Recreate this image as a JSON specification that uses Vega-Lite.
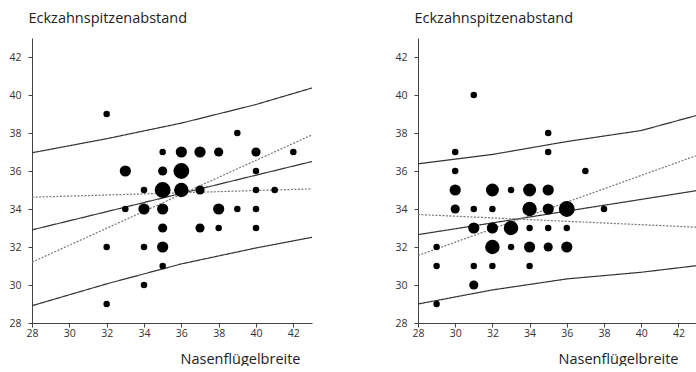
{
  "$schema": "https://vega.github.io/schema/vega-lite/v6.json",
  "background": "white",
  "padding": {"left": 8, "top": 10, "right": 0, "bottom": 0},
  "spacing": 82,
  "config": {
    "view": {"stroke": null},
    "font": "Open Sans",
    "axis": {
      "grid": false,
      "domainColor": "#444",
      "tickColor": "#444",
      "tickSize": 4,
      "labelColor": "#333",
      "labelFontSize": 10.5,
      "labelOverlap": false,
      "titleColor": "#222",
      "titleFontWeight": "normal"
    },
    "axisX": {"labelOverlap": false}
  },
  "datasets": {
    "pts": [
      {"panel": "A", "breite": 32, "abstand": 39, "n": 1},
      {"panel": "A", "breite": 39, "abstand": 38, "n": 1},
      {"panel": "A", "breite": 35, "abstand": 37, "n": 1},
      {"panel": "A", "breite": 36, "abstand": 37, "n": 3},
      {"panel": "A", "breite": 37, "abstand": 37, "n": 3},
      {"panel": "A", "breite": 38, "abstand": 37, "n": 2},
      {"panel": "A", "breite": 40, "abstand": 37, "n": 2},
      {"panel": "A", "breite": 42, "abstand": 37, "n": 1},
      {"panel": "A", "breite": 33, "abstand": 36, "n": 3},
      {"panel": "A", "breite": 35, "abstand": 36, "n": 2},
      {"panel": "A", "breite": 36, "abstand": 36, "n": 6},
      {"panel": "A", "breite": 40, "abstand": 36, "n": 1},
      {"panel": "A", "breite": 34, "abstand": 35, "n": 1},
      {"panel": "A", "breite": 35, "abstand": 35, "n": 6},
      {"panel": "A", "breite": 36, "abstand": 35, "n": 5},
      {"panel": "A", "breite": 37, "abstand": 35, "n": 2},
      {"panel": "A", "breite": 40, "abstand": 35, "n": 1},
      {"panel": "A", "breite": 41, "abstand": 35, "n": 1},
      {"panel": "A", "breite": 33, "abstand": 34, "n": 1},
      {"panel": "A", "breite": 34, "abstand": 34, "n": 3},
      {"panel": "A", "breite": 35, "abstand": 34, "n": 3},
      {"panel": "A", "breite": 38, "abstand": 34, "n": 3},
      {"panel": "A", "breite": 39, "abstand": 34, "n": 1},
      {"panel": "A", "breite": 40, "abstand": 34, "n": 1},
      {"panel": "A", "breite": 35, "abstand": 33, "n": 2},
      {"panel": "A", "breite": 37, "abstand": 33, "n": 2},
      {"panel": "A", "breite": 38, "abstand": 33, "n": 1},
      {"panel": "A", "breite": 40, "abstand": 33, "n": 1},
      {"panel": "A", "breite": 32, "abstand": 32, "n": 1},
      {"panel": "A", "breite": 34, "abstand": 32, "n": 1},
      {"panel": "A", "breite": 35, "abstand": 32, "n": 3},
      {"panel": "A", "breite": 35, "abstand": 31, "n": 1},
      {"panel": "A", "breite": 34, "abstand": 30, "n": 1},
      {"panel": "A", "breite": 32, "abstand": 29, "n": 1},

      {"panel": "B", "breite": 31, "abstand": 40, "n": 1},
      {"panel": "B", "breite": 35, "abstand": 38, "n": 1},
      {"panel": "B", "breite": 30, "abstand": 37, "n": 1},
      {"panel": "B", "breite": 35, "abstand": 37, "n": 1},
      {"panel": "B", "breite": 30, "abstand": 36, "n": 1},
      {"panel": "B", "breite": 37, "abstand": 36, "n": 1},
      {"panel": "B", "breite": 30, "abstand": 35, "n": 3},
      {"panel": "B", "breite": 32, "abstand": 35, "n": 4},
      {"panel": "B", "breite": 33, "abstand": 35, "n": 1},
      {"panel": "B", "breite": 34, "abstand": 35, "n": 4},
      {"panel": "B", "breite": 35, "abstand": 35, "n": 3},
      {"panel": "B", "breite": 30, "abstand": 34, "n": 2},
      {"panel": "B", "breite": 31, "abstand": 34, "n": 1},
      {"panel": "B", "breite": 32, "abstand": 34, "n": 1},
      {"panel": "B", "breite": 34, "abstand": 34, "n": 5},
      {"panel": "B", "breite": 35, "abstand": 34, "n": 3},
      {"panel": "B", "breite": 36, "abstand": 34, "n": 6},
      {"panel": "B", "breite": 38, "abstand": 34, "n": 1},
      {"panel": "B", "breite": 31, "abstand": 33, "n": 3},
      {"panel": "B", "breite": 32, "abstand": 33, "n": 3},
      {"panel": "B", "breite": 33, "abstand": 33, "n": 5},
      {"panel": "B", "breite": 34, "abstand": 33, "n": 1},
      {"panel": "B", "breite": 35, "abstand": 33, "n": 1},
      {"panel": "B", "breite": 36, "abstand": 33, "n": 1},
      {"panel": "B", "breite": 29, "abstand": 32, "n": 1},
      {"panel": "B", "breite": 32, "abstand": 32, "n": 5},
      {"panel": "B", "breite": 33, "abstand": 32, "n": 1},
      {"panel": "B", "breite": 34, "abstand": 32, "n": 3},
      {"panel": "B", "breite": 35, "abstand": 32, "n": 2},
      {"panel": "B", "breite": 36, "abstand": 32, "n": 3},
      {"panel": "B", "breite": 29, "abstand": 31, "n": 1},
      {"panel": "B", "breite": 31, "abstand": 31, "n": 1},
      {"panel": "B", "breite": 32, "abstand": 31, "n": 1},
      {"panel": "B", "breite": 34, "abstand": 31, "n": 1},
      {"panel": "B", "breite": 31, "abstand": 30, "n": 2},
      {"panel": "B", "breite": 29, "abstand": 29, "n": 1}
    ],
    "lines": [
      {"panel": "A", "linie": "PI oben", "art": "Vorhersage", "breite": 28, "abstand": 36.96},
      {"panel": "A", "linie": "PI oben", "art": "Vorhersage", "breite": 32, "abstand": 37.70},
      {"panel": "A", "linie": "PI oben", "art": "Vorhersage", "breite": 36, "abstand": 38.52},
      {"panel": "A", "linie": "PI oben", "art": "Vorhersage", "breite": 40, "abstand": 39.50},
      {"panel": "A", "linie": "PI oben", "art": "Vorhersage", "breite": 43, "abstand": 40.37},
      {"panel": "A", "linie": "Regression", "art": "Regression", "breite": 28, "abstand": 32.90},
      {"panel": "A", "linie": "Regression", "art": "Regression", "breite": 43, "abstand": 36.50},
      {"panel": "A", "linie": "PI unten", "art": "Vorhersage", "breite": 28, "abstand": 28.91},
      {"panel": "A", "linie": "PI unten", "art": "Vorhersage", "breite": 32, "abstand": 30.06},
      {"panel": "A", "linie": "PI unten", "art": "Vorhersage", "breite": 36, "abstand": 31.11},
      {"panel": "A", "linie": "PI unten", "art": "Vorhersage", "breite": 40, "abstand": 31.95},
      {"panel": "A", "linie": "PI unten", "art": "Vorhersage", "breite": 43, "abstand": 32.51},
      {"panel": "A", "linie": "KI 1", "art": "Konfidenz", "breite": 28, "abstand": 31.20},
      {"panel": "A", "linie": "KI 1", "art": "Konfidenz", "breite": 43, "abstand": 37.90},
      {"panel": "A", "linie": "KI 2", "art": "Konfidenz", "breite": 28, "abstand": 34.62},
      {"panel": "A", "linie": "KI 2", "art": "Konfidenz", "breite": 43, "abstand": 35.06},

      {"panel": "B", "linie": "PI oben", "art": "Vorhersage", "breite": 28, "abstand": 36.38},
      {"panel": "B", "linie": "PI oben", "art": "Vorhersage", "breite": 32, "abstand": 36.87},
      {"panel": "B", "linie": "PI oben", "art": "Vorhersage", "breite": 36, "abstand": 37.55},
      {"panel": "B", "linie": "PI oben", "art": "Vorhersage", "breite": 40, "abstand": 38.13},
      {"panel": "B", "linie": "PI oben", "art": "Vorhersage", "breite": 43, "abstand": 38.93},
      {"panel": "B", "linie": "Regression", "art": "Regression", "breite": 28, "abstand": 32.65},
      {"panel": "B", "linie": "Regression", "art": "Regression", "breite": 43, "abstand": 34.97},
      {"panel": "B", "linie": "PI unten", "art": "Vorhersage", "breite": 28, "abstand": 29.00},
      {"panel": "B", "linie": "PI unten", "art": "Vorhersage", "breite": 32, "abstand": 29.74},
      {"panel": "B", "linie": "PI unten", "art": "Vorhersage", "breite": 36, "abstand": 30.32},
      {"panel": "B", "linie": "PI unten", "art": "Vorhersage", "breite": 40, "abstand": 30.67},
      {"panel": "B", "linie": "PI unten", "art": "Vorhersage", "breite": 43, "abstand": 31.02},
      {"panel": "B", "linie": "KI 1", "art": "Konfidenz", "breite": 28, "abstand": 31.55},
      {"panel": "B", "linie": "KI 1", "art": "Konfidenz", "breite": 43, "abstand": 36.82},
      {"panel": "B", "linie": "KI 2", "art": "Konfidenz", "breite": 28, "abstand": 33.71},
      {"panel": "B", "linie": "KI 2", "art": "Konfidenz", "breite": 43, "abstand": 33.04}
    ]
  },
  "hconcat": [
    {
      "width": 280,
      "height": 285,
      "encoding": {
        "x": {"field": "breite", "type": "quantitative", "scale": {"domain": [28, 43], "nice": false, "zero": false},
          "axis": {"values": [28, 30, 32, 34, 36, 38, 40, 42], "labelOverlap": false, "labelFlush": false, "title": "Nasenflügelbreite", "titleFontSize": 14.5, "titleAlign": "right", "titleAnchor": null, "titleX": 268, "titleY": 40, "titleBaseline": "alphabetic", "labelPadding": 1}},
        "y": {"field": "abstand", "type": "quantitative", "scale": {"domain": [28, 43], "nice": false, "zero": false},
          "axis": {"values": [28, 30, 32, 34, 36, 38, 40, 42], "labelOverlap": false, "labelFlush": false, "title": "Eckzahnspitzenabstand", "titleFontSize": 14.5, "titleAngle": 0, "titleAlign": "left", "titleAnchor": null, "titleX": -4, "titleY": -16, "titleBaseline": "alphabetic", "labelPadding": 7}}
      },
      "layer": [
        {
          "data": {"name": "lines"},
          "transform": [{"filter": "datum.panel == 'A'"}],
          "mark": {"type": "line", "strokeWidth": 1.2, "clip": true},
          "encoding": {
            "detail": {"field": "linie"},
            "color": {"field": "art", "type": "nominal", "scale": {"domain": ["Vorhersage", "Regression", "Konfidenz"], "range": ["#333333", "#333333", "#777777"]}, "legend": null},
            "strokeDash": {"field": "art", "type": "nominal", "scale": {"domain": ["Vorhersage", "Regression", "Konfidenz"], "range": [[1, 0], [1, 0], [2, 1.5]]}, "legend": null}
          }
        },
        {
          "data": {"name": "pts"},
          "transform": [{"filter": "datum.panel == 'A'"}],
          "mark": {"type": "circle", "color": "black", "opacity": 1},
          "encoding": {
            "size": {"field": "n", "type": "quantitative", "scale": {"type": "linear", "domain": [0, 6], "range": [0, 252]}, "legend": null}
          }
        }
      ]
    },
    {
      "width": 279,
      "height": 285,
      "encoding": {
        "x": {"field": "breite", "type": "quantitative", "scale": {"domain": [28, 43], "nice": false, "zero": false},
          "axis": {"values": [28, 30, 32, 34, 36, 38, 40, 42], "labelOverlap": false, "labelFlush": false, "title": "Nasenflügelbreite", "titleFontSize": 14.5, "titleAlign": "right", "titleAnchor": null, "titleX": 260, "titleY": 40, "titleBaseline": "alphabetic", "labelPadding": 1}},
        "y": {"field": "abstand", "type": "quantitative", "scale": {"domain": [28, 43], "nice": false, "zero": false},
          "axis": {"values": [28, 30, 32, 34, 36, 38, 40, 42], "labelOverlap": false, "labelFlush": false, "title": "Eckzahnspitzenabstand", "titleFontSize": 14.5, "titleAngle": 0, "titleAlign": "left", "titleAnchor": null, "titleX": -4, "titleY": -16, "titleBaseline": "alphabetic", "labelPadding": 7}}
      },
      "layer": [
        {
          "data": {"name": "lines"},
          "transform": [{"filter": "datum.panel == 'B'"}],
          "mark": {"type": "line", "strokeWidth": 1.2, "clip": true},
          "encoding": {
            "detail": {"field": "linie"},
            "color": {"field": "art", "type": "nominal", "scale": {"domain": ["Vorhersage", "Regression", "Konfidenz"], "range": ["#333333", "#333333", "#777777"]}, "legend": null},
            "strokeDash": {"field": "art", "type": "nominal", "scale": {"domain": ["Vorhersage", "Regression", "Konfidenz"], "range": [[1, 0], [1, 0], [2, 1.5]]}, "legend": null}
          }
        },
        {
          "data": {"name": "pts"},
          "transform": [{"filter": "datum.panel == 'B'"}],
          "mark": {"type": "circle", "color": "black", "opacity": 1},
          "encoding": {
            "size": {"field": "n", "type": "quantitative", "scale": {"type": "linear", "domain": [0, 6], "range": [0, 252]}, "legend": null}
          }
        }
      ]
    }
  ]
}
